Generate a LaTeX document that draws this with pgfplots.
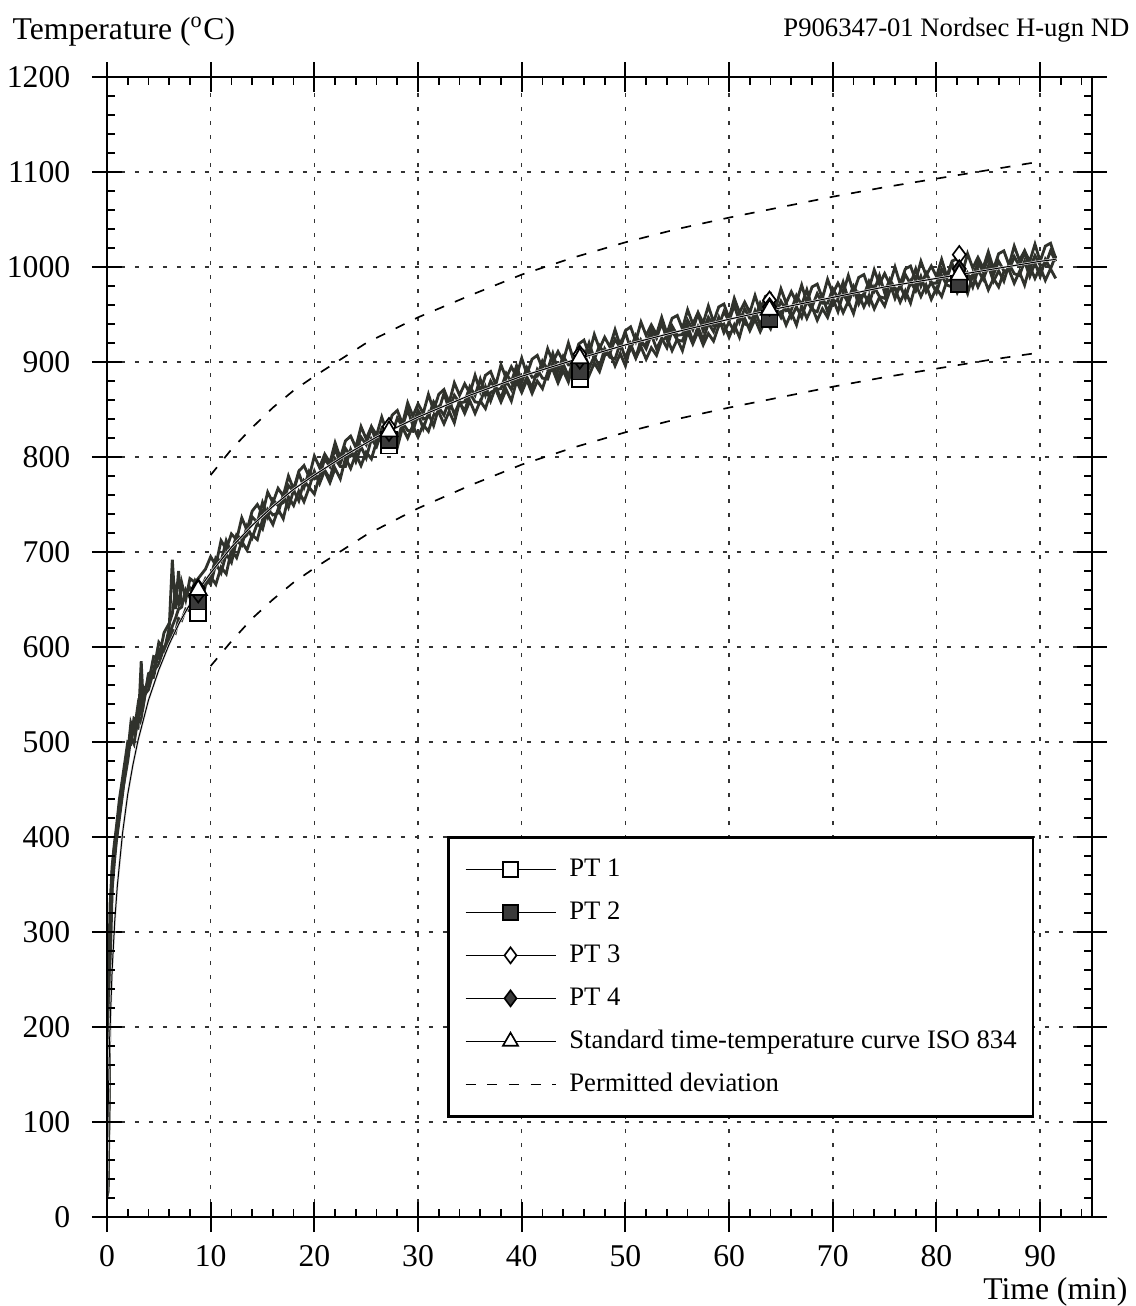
\documentclass[border=0pt]{standalone}
\usepackage{fontspec}
\setmainfont{Liberation Serif}
\usepackage{pgfplots}
\usepackage{pgfplotstable}
\pgfplotsset{compat=1.18}
\definecolor{band}{RGB}{48,50,44}
\definecolor{mfill}{RGB}{58,58,58}

\pgfplotstableread{
t p1 p2 p3 p4
0 21 22 24 23
0.05 24 120 26 25
0.1 26 200 40 28
0.2 140 280 150 110
0.3 290 330 300 260
0.5 350 370 365 345
0.7 378 392 388 372
0.9 398 410 405 395
1.2 425 440 432 420
1.5 448 462 455 445
2 480 500 488 492
2.3 505 498 520 500
2.6 498 518 510 525
3 525 515 540 522
3.3 520 585 530 545
3.5 548 540 555 538
4 555 570 562 572
4.5 575 568 590 575
5 582 598 588 605
5.5 600 595 615 598
6 605 620 625 612
6.3 618 692 635 622
6.6 615 640 660 630
6.9 630 680 645 640
7.2 628 645 668 642
7.6 640 655 650 660
8 638 662 672 652
8.5 648 652 668 670
9 640 660 675 662
9.5 665 672 682 668
10 674 666 695 673
10.5 666 688 686 694
11 684 678 712 690
11.5 677 698 703 712
12 702 689 719 699
12.5 694 712 713 718
13 711 707 736 713
13.5 702 727 723 718
14 718 715 743 737
14.5 713 730 750 731
15 734 724 740 752
15.5 739 745 763 737
16 729 739 752 755
16.5 745 741 767 749
17 735 760 759 752
17.5 758 747 780 770
18 749 765 766 764
18.5 764 754 785 783
19 753 775 791 768
19.5 768 768 779 785
20 761 785 801 777
20.5 780 772 789 780
21 785 786 803 798
21.5 773 777 794 790
22 788 798 815 809
22.5 777 790 799 793
23 799 790 817 809
23.5 788 808 822 801
24 803 795 810 804
24.5 791 811 832 821
25 805 799 819 813
25.5 798 819 832 831
26 816 811 823 815
26.5 819 827 842 830
27 807 813 826 822
27.5 821 826 844 824
28 810 817 849 841
28.5 831 836 835 832
29 820 828 857 850
29.5 833 827 843 833
30 821 845 856 849
30.5 834 830 846 840
31 827 846 866 842
31.5 844 833 849 858
32 847 852 866 849
32.5 835 844 871 867
33 848 860 857 850
33.5 836 845 878 865
34 858 858 865 857
34.5 846 848 877 858
35 859 867 867 874
35.5 846 858 886 865
36 859 857 869 882
36.5 851 874 886 865
37 868 859 890 880
37.5 871 874 876 871
38 858 861 897 872
38.5 871 880 883 888
39 859 871 895 879
39.5 880 887 885 896
40 868 872 904 879
40.5 881 884 887 894
41 867 873 903 884
41.5 880 892 907 885
42 872 883 893 901
42.5 889 882 914 892
43 892 899 900 909
43.5 878 883 911 891
44 891 898 901 906
44.5 879 885 920 897
45 899 903 902 897
45.5 887 894 919 913
46 900 910 923 904
46.5 886 894 908 920
47 899 906 929 903
47.5 890 895 914 917
48 907 914 926 908
48.5 910 905 916 909
49 896 903 934 924
49.5 909 920 917 915
50 896 904 933 931
50.5 917 919 937 914
51 904 905 922 928
51.5 916 923 942 918
52 903 914 928 919
52.5 915 929 939 934
53 907 914 929 925
53.5 923 925 947 941
54 926 915 930 924
54.5 912 933 946 938
55 924 923 949 928
55.5 912 922 935 929
56 932 938 955 944
56.5 919 922 940 934
57 932 937 952 951
57.5 918 923 941 933
58 930 941 959 947
58.5 922 932 942 938
59 938 947 958 938
59.5 940 931 961 953
60 926 942 946 943
60.5 939 932 967 960
61 926 950 952 942
61.5 946 940 963 956
62 933 938 952 946
62.5 945 954 970 946
63 932 939 953 962
63.5 944 953 969 952
64 935 939 972 968
64.5 951 957 957 950
65 953 947 977 964
65.5 939 962 962 954
66 952 947 974 955
66.5 939 958 963 970
67 959 947 981 960
67.5 946 965 963 976
68 958 955 979 958
68.5 944 953 982 972
69 956 969 967 962
69.5 947 953 987 962
70 963 967 972 977
70.5 965 953 983 967
71 952 972 973 984
71.5 964 962 991 966
72 951 977 973 980
72.5 971 961 989 970
73 958 972 992 970
73.5 970 961 977 985
74 956 979 997 975
74.5 968 969 982 991
75 959 967 993 973
75.5 975 983 982 987
76 977 967 1000 977
76.5 963 981 982 977
77 975 967 998 992
77.5 962 985 1001 982
78 982 975 986 998
78.5 969 990 1006 980
79 981 974 991 994
79.5 966 984 1001 983
80 978 973 990 983
80.5 969 991 1008 998
81 985 981 990 988
81.5 987 979 1006 1004
82 973 995 1009 986
82.5 985 979 994 1000
83 972 993 1014 990
83.5 992 979 999 990
84 979 997 1010 1005
84.5 991 987 999 995
85 976 1001 1016 1010
85.5 988 985 998 992
86 979 996 1014 1006
86.5 995 985 1017 996
87 997 1003 1002 996
87.5 983 993 1022 1011
88 995 991 1007 1001
88.5 981 1006 1017 1016
89 1001 990 1006 998
89.5 988 1004 1024 1012
90 1000 990 1006 1002
90.5 986 1008 1022 1002
91 998 998 1025 1017
91.5 988 1012 1009 1006
}\meas

\pgfplotstableread{
t T
0 20
0.1 108
0.25 185
0.5 261
0.75 312
1 349
1.5 404
2 445
2.5 476
3 502
4 544
5 576
6 603
7 626
8 645
9 663
10 678
12 705
14 728
16 748
18 766
20 781
23 802
26 821
30 842
35 865
40 885
45 902
50 918
55 932
60 945
65 957
70 968
75 979
80 988
85 997
90 1006
91.5 1008
}\iso

\pgfplotstableread{
t up lo
10 781 580
12 808 606
14 831 630
16 852 650
18 870 668
20 885 683
25 920 718
30 947 746
35 970 770
40 992 792
45 1010 810
50 1026 826
55 1040 840
60 1052 852
65 1063 863
70 1074 874
75 1084 884
80 1093 893
85 1102 902
90 1111 910
}\dev

\begin{document}
\begin{tikzpicture}
\begin{axis}[name=ax, scale only axis, width=295.5pt, height=342pt,
  xmin=0, xmax=95, ymin=0, ymax=1200,
  xtick={0,10,...,90}, ytick={0,100,...,1200},
  tick align=center, major tick length=9pt, tickpos=both,
  xticklabel pos=lower, yticklabel pos=left,
  grid=major,
  major grid style={black!80, line width=0.45pt, dash pattern=on 1.2pt off 3pt},
  axis line style={line width=0.6pt},
  tick style={black, line width=0.6pt},
  tick label style={font=\fontsize{9.5}{11}\selectfont},
  /pgf/number format/assume math mode=true,
  /pgf/number format/1000 sep={},
  yticklabel style={xshift=-3pt},
  xticklabel style={yshift=-0.5pt},
  legend cell align=left,
  legend style={at={(0.3452,0.3342)}, anchor=north west, draw=black,
    line width=0.8pt, fill=white, inner xsep=4.9pt, inner ysep=5.1pt,
    row sep=3.9pt, column sep=3.9pt,
    font=\fontsize{8}{9}\selectfont,
    nodes={inner xsep=0pt, inner ysep=1pt, text height=5.5pt, text depth=1.5pt}},
  legend image code/.code={\draw[mark repeat=2,mark phase=2,#1] plot coordinates {(0pt,0pt) (13.5pt,0pt) (27pt,0pt)};},
]
% permitted deviation
\addplot[forget plot, black, line width=0.5pt, dash pattern=on 3pt off 3.5pt] table[x=t,y=up] {\dev};
\addplot[forget plot, black, line width=0.5pt, dash pattern=on 3pt off 3.5pt] table[x=t,y=lo] {\dev};
% measured
\addplot[forget plot, band, line width=0.85pt] table[x=t,y=p1] {\meas};
\addplot[forget plot, band, line width=0.85pt] table[x=t,y=p2] {\meas};
\addplot[forget plot, band, line width=0.85pt] table[x=t,y=p3] {\meas};
\addplot[forget plot, band, line width=0.85pt] table[x=t,y=p4] {\meas};
% standard curve
\addplot[forget plot, white!85!black, line width=0.7pt] table[x=t,y=T] {\iso};
\addplot[forget plot, black, line width=0.3pt] table[x=t,y=T] {\iso};
% markers
\addplot[forget plot, only marks, mark=square*, mark size=2.4pt, mark options={fill=white, draw=black, line width=0.5pt}]
  coordinates {(8.8,636) (27.2,812) (45.6,882) (63.9,945) (82.2,982)};
\addplot[forget plot, only marks, mark=square*, mark size=2.4pt, mark options={fill=mfill, draw=black, line width=0.5pt}]
  coordinates {(8.8,648) (27.2,818) (45.6,890) (63.9,945) (82.2,982)};
\addplot[forget plot, only marks, mark=diamond*, mark size=2.6pt, mark options={fill=white, draw=black, line width=0.5pt}]
  coordinates {(8.8,662) (27.2,832) (45.6,908) (63.9,965) (82.2,1013)};
\addplot[forget plot, only marks, mark=diamond*, mark size=2.6pt, mark options={fill=mfill, draw=black, line width=0.5pt}]
  coordinates {(8.8,656) (27.2,826) (45.6,902) (63.9,958) (82.2,998)};
\addplot[forget plot, only marks, mark=triangle*, mark size=3pt, mark options={fill=white, draw=black, line width=0.5pt}]
  coordinates {(8.8,660) (27.2,827) (45.6,904) (63.9,955) (82.2,992)};
% legend
\addlegendimage{black, line width=0.4pt, mark=square*, mark size=2.2pt, mark options={fill=white, draw=black, line width=0.5pt}}
\addlegendentry{PT 1}
\addlegendimage{black, line width=0.4pt, mark=square*, mark size=2.2pt, mark options={fill=mfill, draw=black, line width=0.5pt}}
\addlegendentry{PT 2}
\addlegendimage{black, line width=0.4pt, mark=diamond*, mark size=2.4pt, mark options={fill=white, draw=black, line width=0.5pt}}
\addlegendentry{PT 3}
\addlegendimage{black, line width=0.4pt, mark=diamond*, mark size=2.4pt, mark options={fill=mfill, draw=black, line width=0.5pt}}
\addlegendentry{PT 4}
\addlegendimage{black, line width=0.4pt, mark=triangle*, mark size=2.6pt, mark options={fill=white, draw=black, line width=0.5pt}}
\addlegendentry{Standard time-temperature curve ISO 834}
\addlegendimage{black, line width=0.5pt, dash pattern=on 3pt off 3.5pt}
\addlegendentry{Permitted deviation}
\end{axis}
\begin{axis}[at={(ax.south west)}, anchor=south west, scale only axis,
  width=295.5pt, height=342pt,
  xmin=0, xmax=95, ymin=0, ymax=1200,
  xtick={0,10,...,90}, ytick={0,100,...,1200},
  minor xtick={2,4,...,94}, minor ytick={20,40,...,1180},
  xticklabels={}, yticklabels={},
  tick align=inside, major tick length=0pt, minor tick length=2.5pt,
  tickpos=both,
  axis line style={line width=0.6pt},
  tick style={black, line width=0.5pt}]
\end{axis}
\pgfresetboundingbox
\path[use as bounding box] ([shift={(-32.1pt,-26.7pt)}]ax.south west) rectangle ([shift={(13.2pt,23.1pt)}]ax.north east);
\node[anchor=base west, font=\fontsize{9.5}{11}\selectfont, inner sep=0pt] at ([shift={(-28.5pt,353.1pt)}]ax.south west) {Temperature (\textsuperscript{o}C)};
\node[anchor=base east, font=\fontsize{8}{10}\selectfont, inner sep=0pt] at ([shift={(306.9pt,354pt)}]ax.south west) {P906347-01 Nordsec H-ugn ND};
\node[anchor=base east, font=\fontsize{9.5}{11}\selectfont, inner sep=0pt] at ([shift={(306.3pt,-24.6pt)}]ax.south west) {Time (min)};
\end{tikzpicture}
\end{document}
